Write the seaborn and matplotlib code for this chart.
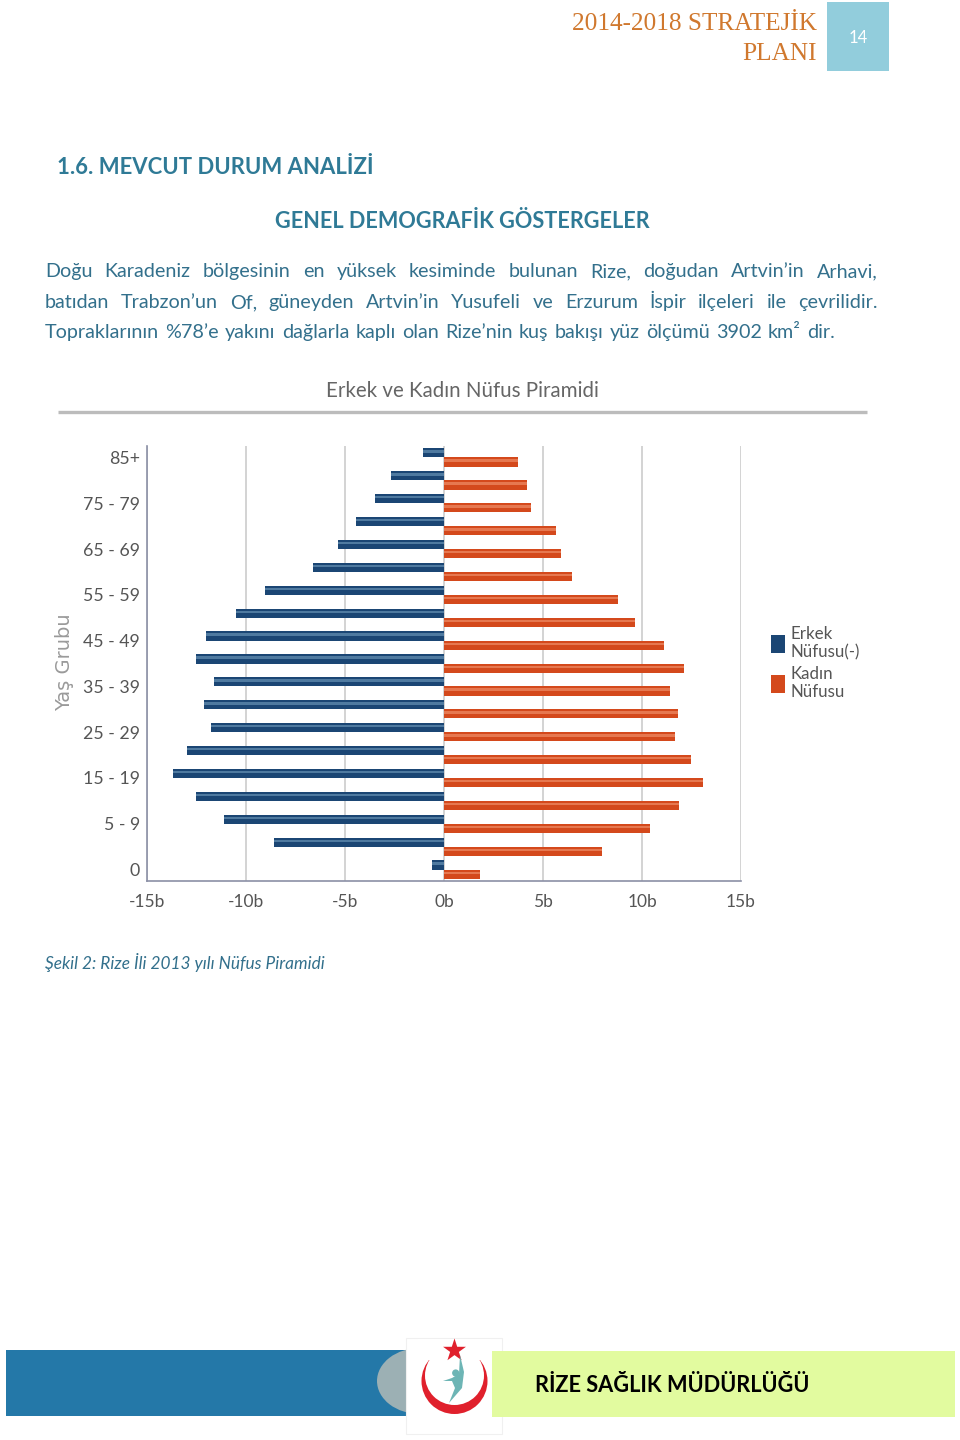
import logging
import numpy as np
import pandas as pd
import seaborn as sns
import matplotlib
matplotlib.use("Agg")
import matplotlib.pyplot as plt
from matplotlib.patches import Rectangle, Ellipse, Circle, Polygon

logging.getLogger("matplotlib.font_manager").setLevel(logging.ERROR)

age_groups = ["85+", "80 - 84", "75 - 79", "70 - 74", "65 - 69", "60 - 64", "55 - 59",
              "50 - 54", "45 - 49", "40 - 44", "35 - 39", "30 - 34", "25 - 29", "20 - 24",
              "15 - 19", "10 - 14", "5 - 9", "1 - 4", "0"]
male_pop = [-1.07, -2.66, -3.5, -4.43, -5.35, -6.6, -9.05, -10.5, -12.0, -12.55,
            -11.63, -12.1, -11.75, -13.0, -13.67, -12.55, -11.1, -8.6, -0.6]
female_pop = [3.74, 4.2, 4.4, 5.66, 5.9, 6.45, 8.8, 9.65, 11.1, 12.1,
              11.4, 11.8, 11.65, 12.45, 13.1, 11.85, 10.4, 8.0, 1.8]
x_ticks = [-15, -10, -5, 0, 5, 10, 15]
x_tick_labels = ["-15b", "-10b", "-5b", "0b", "5b", "10b", "15b"]
series_names = ["Erkek\nNüfusu(-)", "Kadın\nNüfusu"]
body_lines = [
    "Doğu Karadeniz bölgesinin en yüksek kesiminde bulunan Rize, doğudan Artvin’in Arhavi,",
    "batıdan Trabzon’un Of, güneyden Artvin’in Yusufeli ve Erzurum İspir ilçeleri ile çevrilidir.",
    "Topraklarının %78’e yakını dağlarla kaplı olan Rize’nin kuş bakışı yüz ölçümü 3902 km² dir.",
]

W, H = 960, 1440
sns.set_theme(style="white")
plt.rcParams["font.family"] = ["Lato", "DejaVu Sans"]
BLUE, RED = "#1b4674", "#d4491c"
TEXT = "#33708c"
HEAD = "#2f7a96"
GREY = "#555555"
ORANGE = "#d0782e"

fig = plt.figure(figsize=(W / 100, H / 100), dpi=100, facecolor="white")

page = fig.add_axes([0, 0, 1, 1], zorder=0)
page.set_xlim(0, W); page.set_ylim(H, 0); page.axis("off")

ax = fig.add_axes([147 / W, 1 - 881 / H, (741 - 147) / W, (881 - 446) / H], zorder=1)
ax.patch.set_alpha(0)
df = pd.DataFrame({
    "age": age_groups * 2,
    "pop": male_pop + female_pop,
    "series": [series_names[0]] * len(age_groups) + [series_names[1]] * len(age_groups),
})
sns.barplot(data=df, y="age", x="pop", hue="series", order=age_groups,
            hue_order=series_names, palette=[BLUE, RED], width=0.8,
            saturation=1, dodge=True, linewidth=0, ax=ax, legend=True)
for bar in list(ax.patches):
    if bar.get_height() > 0 and bar.get_width() != 0:
        light = "#4f7aa0" if bar.get_width() < 0 else "#e67850"
        ax.add_patch(Rectangle((bar.get_x(), bar.get_y() + bar.get_height() * 0.22),
                               bar.get_width(), bar.get_height() * 0.26,
                               facecolor=light, edgecolor="none", zorder=bar.get_zorder() + 0.1))
ax.set_xlim(-15, 15)
ax.set_ylim(18.5, -0.5)
ax.set_xticks(x_ticks, x_tick_labels)
ax.set_yticks(range(0, len(age_groups), 2), age_groups[::2])
ax.set_xlabel(""); ax.set_ylabel("")
ax.set_axisbelow(True)
ax.grid(True, axis="x", color="#c8c8c8", lw=1.1)
ax.grid(False, axis="y")
for s in ["top", "right"]:
    ax.spines[s].set_visible(False)
for s in ["left", "bottom"]:
    ax.spines[s].set_color("#8b90a6"); ax.spines[s].set_linewidth(1.2)
ax.tick_params(axis="y", length=0, labelcolor=GREY, labelsize=12.8, pad=5)
ax.tick_params(axis="x", length=0, labelcolor=GREY, labelsize=12.5, pad=9)
handles, labels = ax.get_legend_handles_labels()
ax.legend(handles, labels, loc="center left", bbox_to_anchor=(771 / W, 1 - 663 / H),
          bbox_transform=fig.transFigure, frameon=False, prop={"size": 12.2},
          labelcolor=GREY, handlelength=0.85, handleheight=1.3, handletextpad=0.3,
          labelspacing=0.3, borderpad=0, borderaxespad=0)

page.text(65, 662, "Yaş Grubu", rotation=90, ha="center", va="center", fontsize=14,
          color="#9a9a9a", family=["DejaVu Sans"])
page.text(462.5, 391, "Erkek ve Kadın Nüfus Piramidi", ha="center", va="center", fontsize=14.8,
          color="#666666")
page.plot([58, 867], [412, 412], color="#bcbcbc", lw=2.4, solid_capstyle="butt")

page.text(817, 24, "2014-2018 STRATEJİK", ha="right", va="center", fontsize=18.2,
          color=ORANGE, family=["Liberation Serif"])
page.text(817, 54, "PLANI", ha="right", va="center", fontsize=18.2,
          color=ORANGE, family=["Liberation Serif"])
page.add_patch(Rectangle((827, 2), 62, 69, facecolor="#92cddc", edgecolor="none"))
page.text(858, 38, "14", ha="center", va="center", fontsize=12, color="white")

page.text(57, 167, "1.6. MEVCUT DURUM ANALİZİ", ha="left", va="center", fontsize=15.9,
          fontweight="bold", color=HEAD)
page.text(462, 221, "GENEL DEMOGRAFİK GÖSTERGELER", ha="center", va="center", fontsize=15.6,
          fontweight="bold", color=HEAD)

fig.canvas.draw()
renderer = fig.canvas.get_renderer()
def justified(line, y, x0, x1, size):
    words = line.split(" ")
    items = [page.text(0, y, w, ha="left", va="baseline", fontsize=size, color=TEXT) for w in words]
    widths = [t.get_window_extent(renderer).width for t in items]
    gap = (x1 - x0 - sum(widths)) / (len(words) - 1)
    x = x0
    for t, w in zip(items, widths):
        t.set_x(x)
        x += w + gap
justified(body_lines[0], 277, 45, 878, 14.2)
justified(body_lines[1], 308, 45, 878, 14.2)
justified(body_lines[2], 338, 45, 835, 14.2)

page.text(45, 963, "Şekil 2: Rize İli 2013 yılı Nüfus Piramidi", ha="left", va="center",
          fontsize=12.4, style="italic", color=TEXT)

# footer
page.add_patch(Rectangle((6, 1350), 400, 66, facecolor="#2478a8", edgecolor="none"))
page.add_patch(Ellipse((420, 1381), 86, 66, facecolor="#9cb0b4", edgecolor="none"))
page.add_patch(Rectangle((406, 1338), 96, 96, facecolor="white", edgecolor="#f0f0f0", lw=0.8))
page.add_patch(Rectangle((492, 1351), 463, 66, facecolor="#e2fb9f", edgecolor="none"))
page.add_patch(Circle((454.5, 1381), 33, facecolor="#e0202c", edgecolor="none"))
page.add_patch(Circle((454.5, 1375.5), 29.5, facecolor="white", edgecolor="none"))
page.add_patch(Rectangle((418, 1339), 73, 21, facecolor="white", edgecolor="none"))
page.scatter([454], [1350], marker="*", s=300, color="#e0202c", linewidths=0, zorder=5)
page.add_patch(Circle((455.7, 1373), 3.6, facecolor="#6db5b5", edgecolor="none", zorder=5))
page.add_patch(Polygon([(460, 1355), (464, 1372), (462, 1388), (449, 1403), (455, 1388),
                        (452, 1381), (443, 1381), (452, 1378), (459, 1374)],
                       facecolor="#6db5b5", edgecolor="none", zorder=5))
page.text(535, 1385, "RİZE SAĞLIK MÜDÜRLÜĞÜ", ha="left", va="center", fontsize=15.7,
          fontweight="bold", color="black")

fig.savefig("out.png", dpi=100, facecolor="white")
